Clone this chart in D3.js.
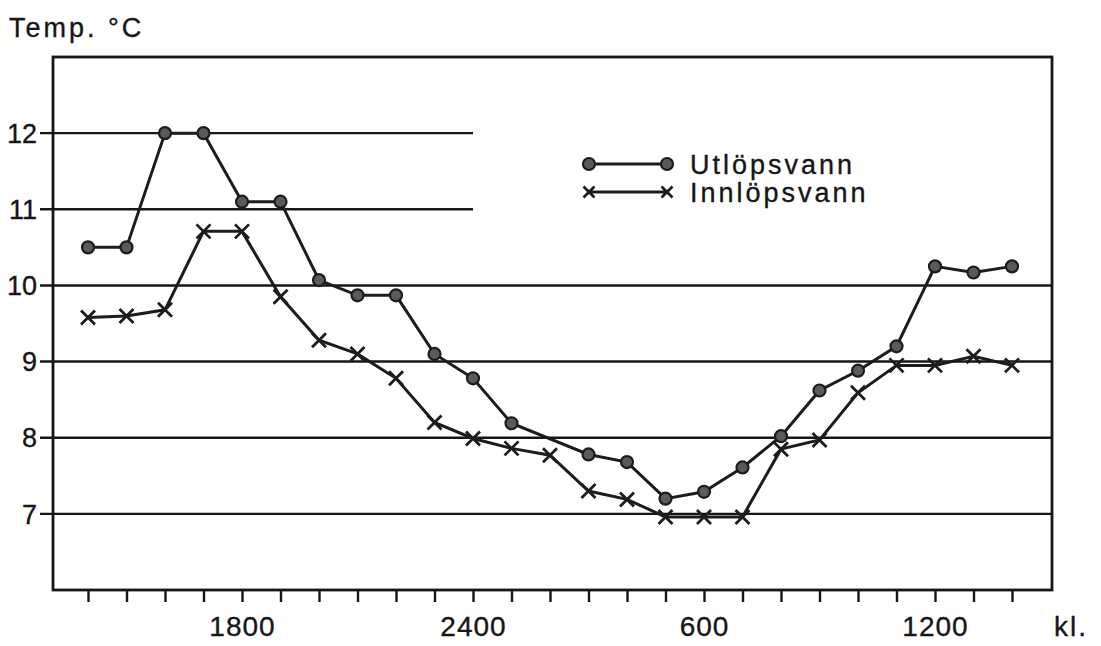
<!doctype html>
<html>
<head>
<meta charset="utf-8">
<style>
    body { margin: 0; background: #fff; }
    text { font-family: "Liberation Sans", Arial, sans-serif; fill: #161616; stroke: #161616; stroke-width: 0.35; }
    .grid, .frame, .axis line, .axis path { stroke: #161616; }
</style>
<script src="https://d3js.org/d3.v7.min.js"></script>
</head>
<body>
<svg width="1101" height="646"></svg>
<script>
// hourly readings, index 0 = kl. 1400, index 24 = kl. 1400 next day
var hours = d3.range(0, 25);
var utlop = [10.5, 10.5, 12.0, 12.0, 11.1, 11.1, 10.07, 9.87, 9.87, 9.1, 8.78, 8.19, null,
             7.78, 7.68, 7.2, 7.29, 7.61, 8.02, 8.62, 8.88, 9.2, 10.25, 10.17, 10.25];
var innlop = [9.58, 9.6, 9.68, 10.71, 10.71, 9.85, 9.28, 9.1, 8.78, 8.2, 7.99, 7.86, 7.77,
              7.3, 7.19, 6.96, 6.96, 6.96, 7.85, 7.97, 8.59, 8.95, 8.95, 9.07, 8.95];
var labelHours = [4, 10, 16, 22];
var labelTexts = ["1800", "2400", "600", "1200"];
var yTicks = [7, 8, 9, 10, 11, 12];
var shortGrid = [11, 12];
var seriesNames = ["Utlöpsvann", "Innlöpsvann"];

var svg = d3.select("svg");
var plotL = 53, plotR = 1052, plotT = 57, plotB = 590;

var x = d3.scaleLinear().domain([0, 24]).range([88, 1012]);
var y = d3.scaleLinear().domain([6, 13]).range([plotB, plotT]);

// grid lines (the two upper ones stop short to leave room for the legend)
svg.selectAll(".grid")
    .data(yTicks)
    .enter().append("line")
    .attr("class", "grid")
    .attr("x1", plotL - 13)
    .attr("x2", function(d) { return shortGrid.indexOf(d) >= 0 ? x(10) : plotR; })
    .attr("y1", function(d) { return y(d); })
    .attr("y2", function(d) { return y(d); })
    .attr("stroke-width", 2.4);

svg.selectAll(".ylab")
    .data(yTicks)
    .enter().append("text")
    .attr("class", "ylab")
    .attr("x", 37)
    .attr("y", function(d) { return y(d); })
    .attr("dy", "0.36em")
    .attr("text-anchor", "end")
    .attr("font-size", 27)
    .text(function(d) { return d; });

// frame
svg.append("rect")
    .attr("class", "frame")
    .attr("x", plotL).attr("y", plotT)
    .attr("width", plotR - plotL).attr("height", plotB - plotT)
    .attr("fill", "none")
    .attr("stroke-width", 2.8);

// x axis ticks
var xAxis = d3.axisBottom(x)
    .tickValues(hours)
    .tickSize(12)
    .tickFormat(function(d) {
        var i = labelHours.indexOf(d);
        return i >= 0 ? labelTexts[i] : "";
    });

var gx = svg.append("g")
    .attr("class", "axis")
    .attr("transform", "translate(0," + plotB + ")")
    .call(xAxis);
gx.select(".domain").remove();
gx.selectAll("line").attr("stroke-width", 2.4);
gx.selectAll("text")
    .attr("font-size", 28)
    .attr("letter-spacing", 1)
    .attr("dy", "1.1em")
    .style("font-family", "Liberation Sans, Arial, sans-serif")
    .attr("fill", "#161616");

svg.append("text")
    .attr("x", 1054).attr("y", 636)
    .attr("font-size", 28)
    .attr("letter-spacing", 2)
    .text("kl.");

svg.append("text")
    .attr("x", 9).attr("y", 37)
    .attr("font-size", 27)
    .attr("letter-spacing", 3)
    .text("Temp. °C");

// series
var line = d3.line()
    .x(function(d) { return x(d.h); })
    .y(function(d) { return y(d.v); });

function points(arr) {
    return hours.map(function(h) { return { h: h, v: arr[h] }; })
        .filter(function(d) { return d.v != null; });
}

var utPts = points(utlop), inPts = points(innlop);

svg.append("path")
    .datum(inPts)
    .attr("d", line)
    .attr("fill", "none")
    .attr("stroke", "#1c1c1c")
    .attr("stroke-width", 3);

svg.append("path")
    .datum(utPts)
    .attr("d", line)
    .attr("fill", "none")
    .attr("stroke", "#1c1c1c")
    .attr("stroke-width", 3);

function drawCircle(g, cx, cy) {
    g.append("circle")
        .attr("cx", cx).attr("cy", cy).attr("r", 6)
        .attr("fill", "#5a5a5a").attr("stroke", "#1c1c1c").attr("stroke-width", 2.2);
}
function drawCross(g, cx, cy, s) {
    g.append("path")
        .attr("d", "M" + (cx - s) + "," + (cy - s) + "L" + (cx + s) + "," + (cy + s) +
                   "M" + (cx - s) + "," + (cy + s) + "L" + (cx + s) + "," + (cy - s))
        .attr("stroke", "#1c1c1c").attr("stroke-width", 2.8).attr("fill", "none");
}

var mk = svg.append("g");
utPts.forEach(function(d) { drawCircle(mk, x(d.h), y(d.v)); });
inPts.forEach(function(d) { drawCross(mk, x(d.h), y(d.v), 7); });

// legend
var rowY = [164, 192];
var lg = svg.append("g");
lg.append("line").attr("x1", 589).attr("x2", 667).attr("y1", rowY[0]).attr("y2", rowY[0])
    .attr("stroke", "#1c1c1c").attr("stroke-width", 3);
drawCircle(lg, 589, rowY[0]);
drawCircle(lg, 667, rowY[0]);
lg.append("line").attr("x1", 589).attr("x2", 667).attr("y1", rowY[1]).attr("y2", rowY[1])
    .attr("stroke", "#1c1c1c").attr("stroke-width", 3);
drawCross(lg, 589, rowY[1], 5.5);
drawCross(lg, 667, rowY[1], 5.5);
lg.selectAll(".lt")
    .data(seriesNames)
    .enter().append("text")
    .attr("x", 690)
    .attr("y", function(d, i) { return rowY[i]; })
    .attr("dy", "0.36em")
    .attr("font-size", 27)
    .attr("letter-spacing", 3)
    .text(function(d) { return d; });
</script>
</body>
</html>
